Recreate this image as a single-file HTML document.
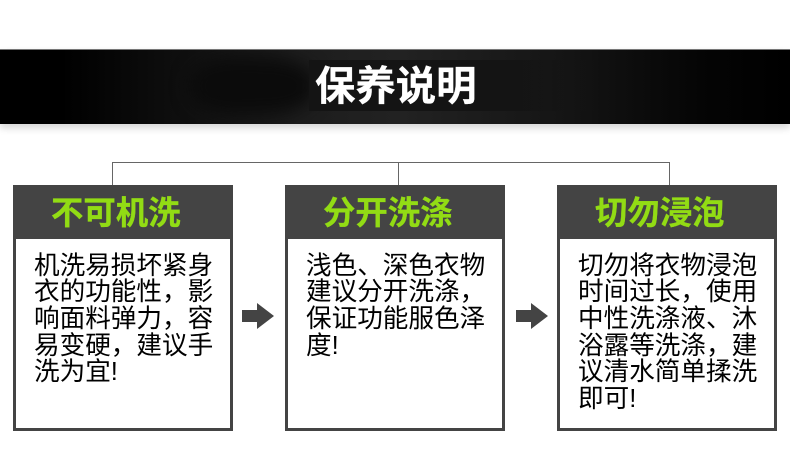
<!DOCTYPE html>
<html lang="zh">
<head>
<meta charset="utf-8">
<style>
html,body{margin:0;padding:0;background:#fff}
#p{position:relative;width:790px;height:472px;overflow:hidden;background:#fff;font-family:"Liberation Sans","Noto Sans CJK SC",sans-serif}
.a{position:absolute}
.banner{left:0;top:49px;width:790px;height:75px;overflow:hidden;background:linear-gradient(90deg,#000 0,#000 60px,#1d1d1d 300px,#222 400px,#151515 560px,#050505 700px,#000 790px);box-shadow:0 4px 7px rgba(0,0,0,.16);border-top:1px solid #777;box-sizing:border-box}
.smudge{left:190px;top:8px;width:125px;height:56px;background:#0b0b0b;filter:blur(9px);border-radius:40%}
.inner{left:309px;top:60px;width:290px;height:51px;background:linear-gradient(90deg,#141414 0,#141414 70%,rgba(20,20,20,0) 100%)}
.title{left:315px;top:60px;font-size:40.4px;line-height:52px;font-weight:700;color:#fff;white-space:nowrap;-webkit-text-stroke:.3px #fff}
.ln{background:#666}
.box{top:185px;width:220px;height:246px;box-sizing:border-box;border:3px solid #444;background:#fff}
.hd{left:0;top:0;width:214px;height:51px;background:#444;position:absolute;color:#92dc14;font-size:32.4px;font-weight:700;line-height:50px;white-space:nowrap;padding-left:0;-webkit-text-stroke:.3px #92dc14;text-indent:35px;box-sizing:border-box}
.tx{position:absolute;top:51px;font-size:25.6px;line-height:26.7px;color:#000;white-space:nowrap;font-weight:400;padding-top:13.5px}
</style>
</head>
<body>
<div id="p">
  <div class="a banner"><div class="a smudge"></div></div>
  <div class="a inner"></div>
  <div class="a title">保养说明</div>

  <div class="a ln" style="left:112px;top:162px;width:558px;height:1px"></div>
  <div class="a ln" style="left:112px;top:162px;width:1px;height:23px"></div>
  <div class="a ln" style="left:398px;top:162px;width:1px;height:23px"></div>
  <div class="a ln" style="left:669px;top:162px;width:1px;height:23px"></div>

  <div class="a box" style="left:13px">
    <div class="hd">不可机洗</div>
    <div class="tx" style="left:18px">机洗易损坏紧身<br>衣的功能性，影<br>响面料弹力，容<br>易变硬，建议手<br>洗为宜!</div>
  </div>
  <div class="a box" style="left:285px">
    <div class="hd">分开洗涤</div>
    <div class="tx" style="left:18px">浅色、深色衣物<br>建议分开洗涤，<br>保证功能服色泽<br>度!</div>
  </div>
  <div class="a box" style="left:557px">
    <div class="hd">切勿浸泡</div>
    <div class="tx" style="left:18px">切勿将衣物浸泡<br>时间过长，使用<br>中性洗涤液、沐<br>浴露等洗涤，建<br>议清水简单揉洗<br>即可!</div>
  </div>

  <svg class="a" style="left:0;top:0" width="790" height="472" viewBox="0 0 790 472">
    <polygon fill="#444" points="242,310 257,310 257,303 274,316 257,329 257,322 242,322"/>
    <polygon fill="#444" points="516,310 531,310 531,303 548,316 531,329 531,322 516,322"/>
  </svg>
</div>
</body>
</html>
